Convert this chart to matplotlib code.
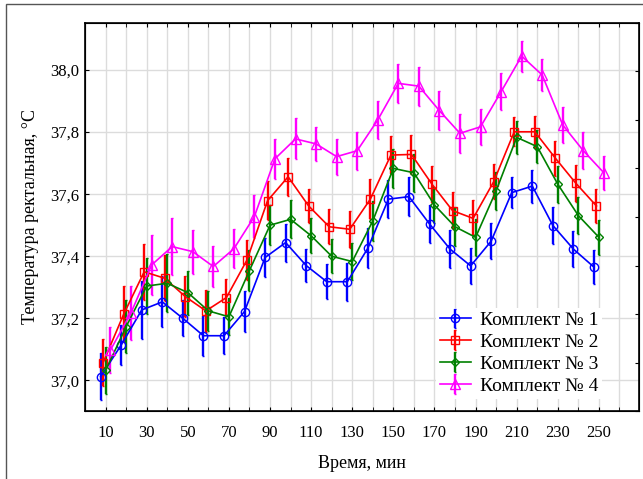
import numpy as np
import matplotlib
matplotlib.use('Agg')
import matplotlib.pyplot as plt
from matplotlib.ticker import FixedLocator, MultipleLocator, FuncFormatter
from matplotlib.patches import Rectangle

plt.rcParams['font.family'] = ['Liberation Serif', 'DejaVu Serif']

time = [10, 20, 30, 40, 50, 60, 70, 80, 90, 100, 110, 120, 130,
        140, 150, 160, 170, 180, 190, 200, 210, 220, 230, 240, 250]

k1 = [37.012, 37.114, 37.227, 37.253, 37.200, 37.144, 37.144, 37.222, 37.396,
      37.444, 37.370, 37.318, 37.318, 37.426, 37.584, 37.592, 37.504, 37.423,
      37.369, 37.449, 37.605, 37.626, 37.499, 37.423, 37.365]
k2 = [37.057, 37.213, 37.350, 37.329, 37.270, 37.224, 37.267, 37.388, 37.579,
      37.656, 37.562, 37.495, 37.487, 37.584, 37.726, 37.728, 37.632, 37.547,
      37.522, 37.640, 37.801, 37.801, 37.716, 37.635, 37.562]
k3 = [37.032, 37.173, 37.304, 37.313, 37.283, 37.224, 37.205, 37.354, 37.500,
      37.519, 37.466, 37.400, 37.383, 37.514, 37.683, 37.669, 37.565, 37.495,
      37.461, 37.611, 37.783, 37.753, 37.632, 37.531, 37.461]
k4 = [37.098, 37.218, 37.372, 37.431, 37.415, 37.367, 37.424, 37.528, 37.714,
      37.778, 37.762, 37.721, 37.740, 37.839, 37.957, 37.948, 37.869, 37.796,
      37.817, 37.930, 38.045, 37.984, 37.823, 37.740, 37.669]

e1 = [0.075, 0.065, 0.092, 0.082, 0.058, 0.064, 0.060, 0.065, 0.064, 0.061,
      0.054, 0.056, 0.061, 0.064, 0.062, 0.063, 0.061, 0.062, 0.058, 0.057,
      0.051, 0.053, 0.059, 0.059, 0.055]
e2 = [0.076, 0.090, 0.090, 0.074, 0.067, 0.068, 0.060, 0.064, 0.063, 0.062,
      0.056, 0.057, 0.060, 0.064, 0.061, 0.062, 0.059, 0.059, 0.058, 0.056,
      0.047, 0.052, 0.056, 0.059, 0.054]
e3 = [0.075, 0.086, 0.090, 0.094, 0.071, 0.064, 0.060, 0.067, 0.064, 0.061,
      0.056, 0.055, 0.061, 0.065, 0.064, 0.061, 0.059, 0.061, 0.059, 0.062,
      0.052, 0.053, 0.059, 0.060, 0.056]
e4 = [0.075, 0.087, 0.097, 0.092, 0.071, 0.065, 0.063, 0.068, 0.065, 0.066,
      0.056, 0.058, 0.061, 0.062, 0.062, 0.063, 0.062, 0.062, 0.058, 0.059,
      0.050, 0.052, 0.059, 0.059, 0.054]

labels = ['Комплект № 1', 'Комплект № 2', 'Комплект № 3', 'Комплект № 4']
colors = ['#0000ff', '#ff0000', '#008000', '#ff00ff']
markers = ['o', 's', 'D', '^']
msizes = [6, 5.5, 3.8, 7]
shifts = [-2.4, -1.2, 0.0, 2.4]

fig = plt.figure(figsize=(6.43, 4.79), dpi=100)
ax = fig.add_axes([0.1322, 0.141, 0.8616, 0.812])

t = np.array(time, dtype=float)
for y, e, lab, c, m, ms, dx in zip([k1, k2, k3, k4], [e1, e2, e3, e4], labels,
                                   colors, markers, msizes, shifts):
    ax.errorbar(t + dx, y, yerr=e, color=c, ecolor=c, marker=m, ms=ms,
                mfc='none', mec=c, mew=1.0, lw=1.2, elinewidth=1.7,
                capsize=1, label=lab, zorder=3)

ax.set_xlim(0, 269.5)
ax.set_ylim(36.9, 38.153)
ax.xaxis.set_major_locator(FixedLocator(list(range(10, 251, 20))))
ax.xaxis.set_minor_locator(MultipleLocator(10))
ax.yaxis.set_major_locator(FixedLocator([37.0, 37.2, 37.4, 37.6, 37.8, 38.0]))
ax.yaxis.set_major_formatter(FuncFormatter(lambda v, p: f'{v:.1f}'.replace('.', ',')))
ax.grid(True, which='both', axis='x', color='#dcdcdc', lw=1, zorder=0)
ax.grid(True, which='major', axis='y', color='#dcdcdc', lw=1, zorder=0)
ax.set_axisbelow(True)
ax.tick_params(axis='x', which='both', direction='in', top=True, length=3,
               labelsize=12, pad=10)
ax.tick_params(axis='y', which='major', direction='in', length=3, labelsize=12,
               pad=4)
for s in ax.spines.values():
    s.set_linewidth(1.2)

# right axis ticks (equal divisions, no labels)
ax2 = ax.twinx()
ax2.set_ylim(0, 8)
ax2.set_yticks(range(9))
ax2.tick_params(axis='y', direction='in', length=3, labelright=False)

ax.set_xlabel('Время, мин', fontsize=13, labelpad=10)
ax.set_ylabel('Температура ректальная, °С', fontsize=13, labelpad=8)

leg = ax.legend(loc='lower left', bbox_to_anchor=(0.616, 0.008), fontsize=14,
                frameon=True, framealpha=1, edgecolor='none', fancybox=False,
                handlelength=1.6, handletextpad=0.45, labelspacing=0.22,
                borderpad=0.2)
leg.set_zorder(5)

fig.patches.append(Rectangle((5.5 / 643, -0.05), 1.2, 1.05 - 4.5 / 479,
                             transform=fig.transFigure, fill=False,
                             edgecolor='#555555', lw=1))

fig.savefig('out.png', dpi=100)
